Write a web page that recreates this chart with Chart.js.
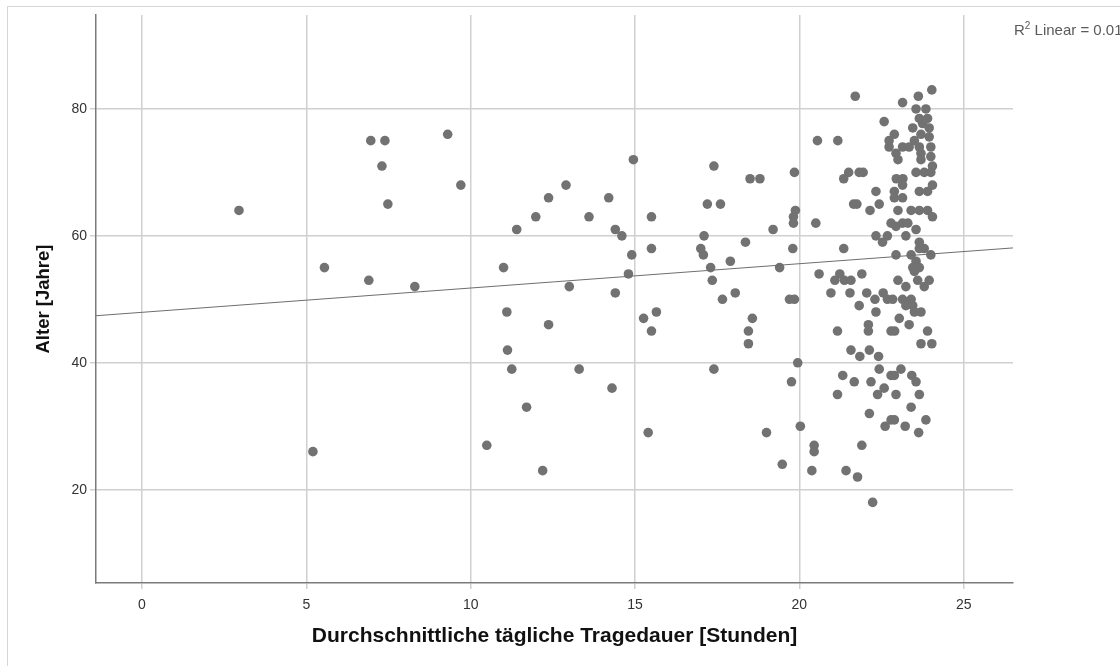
<!DOCTYPE html>
<html>
<head>
<meta charset="utf-8">
<script src="https://cdn.jsdelivr.net/npm/chart.js@4.4.1/dist/chart.umd.min.js"></script>
<style>
  html, body { margin: 0; padding: 0; background: #fff; }
  canvas { display: block; }
</style>
</head>
<body>
<canvas id="c" width="1120" height="666"></canvas>
<script>
// Average daily wearing time (hours) per respondent
const hours = [
  2.95, 5.2, 5.55, 6.96, 7.39, 7.3, 7.48, 6.9, 8.3, 9.3, 9.7, 10.49, 11.0, 11.1, 11.12, 11.25,
  11.4, 11.7, 11.98, 12.19, 12.37, 12.37, 12.9, 13.0, 13.3, 13.6, 14.2, 14.3, 14.4, 14.4, 14.6,
  14.8, 14.9, 14.95, 15.26, 15.4, 15.5, 15.5, 15.65, 15.5, 17.0, 17.08, 17.1, 17.2, 17.3, 17.35,
  17.4, 17.4, 17.6, 17.66, 17.9, 18.05, 18.36, 18.45, 18.45, 18.5, 18.57, 18.8, 19.0, 19.2, 19.4,
  19.48, 19.7, 19.85, 19.76, 19.85, 19.82, 19.88, 19.82, 19.8, 19.95, 20.03,
  20.45, 20.45, 20.38, 20.55, 20.5, 20.6, 21.17, 21.7, 21.23, 21.08, 21.37, 21.57, 21.9, 20.96,
  21.54, 22.05, 22.55, 22.3, 22.68, 22.84, 21.82, 22.1, 22.1, 21.16, 21.57, 21.84, 22.13, 22.41,
  21.32, 21.67, 22.18, 21.16, 22.13, 21.9, 21.42, 21.77, 22.23, 21.35, 21.5, 21.82, 21.94, 21.65,
  21.75, 21.35, 22.43, 22.15, 22.33, 22.33, 22.53, 22.58, 22.73, 22.73, 22.94, 22.89,
  23.0, 22.89, 22.89, 23.14, 22.95, 23.15, 23.14, 22.79, 22.94, 22.68, 23.24, 23.0, 23.4, 23.65,
  23.9, 24.05, 23.14, 23.3, 23.55, 23.65, 23.8, 23.65, 23.9, 24.05, 23.55, 23.8, 24.0, 24.05,
  23.14, 23.34, 23.65, 24.0, 23.7, 24.0, 23.7, 23.5, 23.95, 23.7, 23.45, 23.75, 23.95, 23.65,
  23.9, 23.55, 23.85, 23.14, 23.62, 24.03, 22.94, 23.4, 23.65, 24.0, 23.55, 23.45, 23.65, 23.5,
  23.0, 23.24, 23.6, 23.95, 23.8, 23.14, 23.4, 23.24, 23.45, 22.33, 23.5, 23.7, 23.04, 23.34,
  22.79, 22.9, 23.9, 23.7, 24.03, 22.43, 22.79, 22.89, 23.09, 23.42, 23.55, 22.58, 22.38, 22.94,
  23.65, 23.4, 22.79, 22.89, 23.85, 22.61, 23.22, 23.63
];

// Age in years, same order as hours
const ages = [
  64, 26, 55, 75, 75, 71, 65, 53, 52, 76, 68, 27, 55, 48, 42, 39,
  61, 33, 63, 23, 66, 46, 68, 52, 39, 63, 66, 36, 61, 51, 60,
  54, 57, 72, 47, 29, 63, 58, 48, 45, 58, 57, 60, 65, 55, 53,
  71, 39, 65, 50, 56, 51, 59, 45, 43, 69, 47, 69, 29, 61, 55,
  24, 50, 50, 37, 70, 63, 64, 62, 58, 40, 30,
  27, 26, 23, 75, 62, 54, 75, 82, 54, 53, 53, 53, 54, 51,
  51, 51, 51, 50, 50, 50, 49, 46, 45, 45, 42, 41, 42, 41,
  38, 37, 37, 35, 32, 27, 23, 22, 18, 69, 70, 70, 70, 65,
  65, 58, 65, 64, 67, 60, 59, 78, 75, 74, 73, 76,
  72, 67, 66, 66, 69, 69, 68, 62, 61.5, 60, 60, 64, 64, 64,
  64, 63, 62, 62, 61, 59, 58, 67, 67, 68, 70, 70, 70, 71,
  74, 74, 74, 74, 73, 72.5, 72, 75, 75.6, 76, 77, 77.7, 77, 78.5,
  78.5, 80, 80, 81, 82, 83, 57, 57, 58, 57, 56, 55, 55, 54.4,
  53, 52, 53, 53, 52, 50, 50, 49, 49, 48, 48, 48, 47, 46,
  45, 45, 45, 43, 43, 39, 38, 38, 39, 38, 37, 36, 35, 35,
  35, 33, 31, 31, 31, 30, 30, 29
];

// Axis ranges and tick values
const xRange = [-1.4, 26.5];
const yRange = [5.3, 94.8];
const xTickValues = [0, 5, 10, 15, 20, 25];
const yTickValues = [20, 40, 60, 80];

// Linear fit: age = intercept + slope * hours
const fitIntercept = 47.95;
const fitSlope = 0.383;
const fitLabelParts = ['R', '2', ' Linear = 0.013'];

const xTitle = 'Durchschnittliche tägliche Tragedauer [Stunden]';
const yTitle = 'Alter [Jahre]';

const points = hours.map((h, i) => ({ x: h, y: ages[i] }));
const fitLine = xRange.map(x => ({ x: x, y: fitIntercept + fitSlope * x }));

const FONT = '"Liberation Sans", Arial, sans-serif';

const frameAndLabel = {
  id: 'frameAndLabel',
  beforeDraw(chart) {
    const ctx = chart.ctx;
    ctx.save();
    ctx.fillStyle = '#ffffff';
    ctx.fillRect(0, 0, chart.width, chart.height);
    ctx.strokeStyle = '#d6d6d6';
    ctx.lineWidth = 1;
    ctx.strokeRect(7.5, 6.5, chart.width + 20, chart.height + 20);
    ctx.restore();
  },
  afterDraw(chart) {
    const ctx = chart.ctx;
    const area = chart.chartArea;
    ctx.save();
    ctx.fillStyle = '#5a5a5a';
    ctx.textBaseline = 'alphabetic';
    ctx.textAlign = 'left';
    let x = area.right + 1;
    const y = area.top + 20;
    ctx.font = '15px ' + FONT;
    ctx.fillText(fitLabelParts[0], x, y);
    x += ctx.measureText(fitLabelParts[0]).width;
    ctx.font = '10px ' + FONT;
    ctx.fillText(fitLabelParts[1], x, y - 6);
    x += ctx.measureText(fitLabelParts[1]).width;
    ctx.font = '15px ' + FONT;
    ctx.fillText(fitLabelParts[2], x, y);
    ctx.restore();
  }
};

new Chart(document.getElementById('c'), {
  type: 'scatter',
  data: {
    datasets: [
      {
        type: 'line',
        data: fitLine,
        borderColor: '#6e6e6e',
        borderWidth: 1,
        pointRadius: 0,
        fill: false,
        order: 0
      },
      {
        data: points,
        backgroundColor: '#727272',
        borderWidth: 0,
        pointRadius: 4.8,
        order: 1
      }
    ]
  },
  options: {
    responsive: false,
    animation: false,
    devicePixelRatio: 1,
    layout: { padding: { top: 15, right: 107, left: 0, bottom: 0 } },
    plugins: { legend: { display: false }, tooltip: { enabled: false } },
    scales: {
      x: {
        type: 'linear',
        min: xRange[0],
        max: xRange[1],
        afterBuildTicks: s => { s.ticks = xTickValues.map(v => ({ value: v })); },
        afterFit: s => { s.height = 83; },
        grid: { color: '#d0d0d0', lineWidth: 1.5, tickLength: 6 },
        border: { color: '#7a7a7a', width: 1.5 },
        ticks: { color: '#333333', font: { family: FONT, size: 14 }, padding: 8 },
        title: {
          display: true,
          text: xTitle,
          color: '#111111',
          font: { family: FONT, size: 21, weight: 'bold' },
          padding: { top: 0, bottom: 17 }
        }
      },
      y: {
        type: 'linear',
        min: yRange[0],
        max: yRange[1],
        afterBuildTicks: s => { s.ticks = yTickValues.map(v => ({ value: v })); },
        afterFit: s => { s.width = 96; },
        grid: { color: '#d0d0d0', lineWidth: 1.5, tickLength: 6 },
        border: { color: '#7a7a7a', width: 1.5 },
        ticks: { color: '#333333', font: { family: FONT, size: 14 }, padding: 3 },
        title: {
          display: true,
          text: yTitle,
          color: '#111111',
          font: { family: FONT, size: 18.5, weight: 'bold' },
          padding: { top: 33, bottom: 0 }
        }
      }
    }
  },
  plugins: [frameAndLabel]
});
</script>
</body>
</html>
